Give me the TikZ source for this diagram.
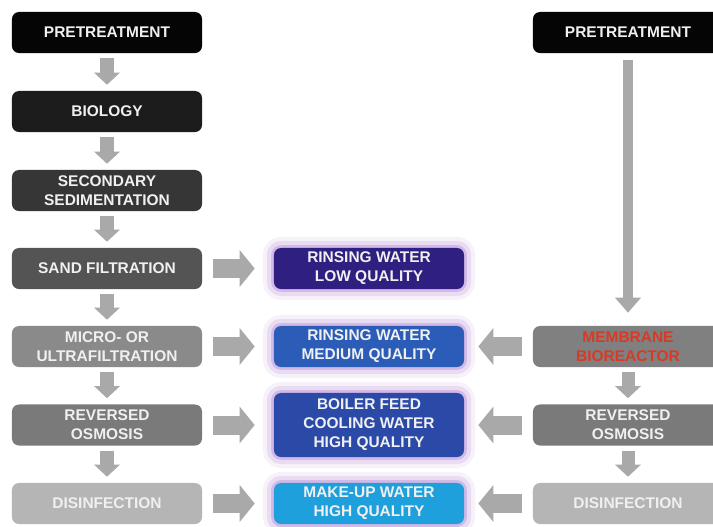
\documentclass[tikz,border=0pt]{standalone}
\usepackage{fontspec}
\setmainfont{Liberation Sans}
\usepackage{xcolor}
\usetikzlibrary{arrows.meta}

\definecolor{arrowgray}{HTML}{A9A9A9}
\definecolor{glow}{HTML}{BE98DE}
\definecolor{lowq}{HTML}{2E1F80}
\definecolor{medq}{HTML}{2A5CB8}
\definecolor{highq}{HTML}{2B4AA8}
\definecolor{makeq}{HTML}{1EA0DC}
\definecolor{mbrred}{HTML}{D83A24}

\tikzset{
  stage/.style={rounded corners=5pt, minimum width=4.75cm, minimum height=1.025cm, inner sep=0pt,
    align=center, text=white!94!black, font=\bfseries\fontsize{11}{13.5}\selectfont},
  water/.style={stage,
    preaction={draw=glow, line width=0.55cm, opacity=0.12},
    preaction={draw=glow, line width=0.35cm, opacity=0.25},
    preaction={draw=glow, line width=0.14cm, opacity=0.5}},
  downarrow/.style={draw=arrowgray, line width=0.325cm, -{Triangle[width=0.625cm, length=0.3cm]}},
  sidearrow/.style={draw=arrowgray, line width=0.475cm, -{Triangle[width=0.9cm, length=0.375cm]}},
  longarrow/.style={draw=arrowgray, line width=0.25cm, -{Triangle[width=0.625cm, length=0.375cm]}}
}

\begin{document}
\begin{tikzpicture}[x=0.025cm, y=-0.025cm]
        \useasboundingbox[fill=white] (0,0) rectangle (713,527);
        % conventional line
        \node[stage, fill=black!98] (pre) at (107,32.5) {PRETREATMENT};
        \node[stage, fill=black!89] (bio) at (107,111.5) {BIOLOGY};
        \node[stage, fill=black!79] (sed) at (107,190.5) {SECONDARY\\SEDIMENTATION};
        \node[stage, fill=black!67] (sand) at (107,268.5) {SAND FILTRATION};
        \node[stage, fill=black!46] (uf) at (107,346.5) {MICRO- OR\\ULTRAFILTRATION};
        \node[stage, fill=black!52] (ro) at (107,425) {REVERSED\\OSMOSIS};
        \node[stage, fill=black!29] (dis) at (107,503.5) {DISINFECTION};
        % water qualities
        \node[water, fill=lowq] (low) at (369,268.5) {RINSING WATER\\LOW QUALITY};
        \node[water, fill=medq] (med) at (369,346.5) {RINSING WATER\\MEDIUM QUALITY};
        \node[water, fill=highq, minimum height=1.6cm] (high) at (369,425) {BOILER FEED\\COOLING WATER\\HIGH QUALITY};
        \node[water, fill=makeq] (make) at (369,503.5) {MAKE-UP WATER\\HIGH QUALITY};
        % membrane bioreactor line
        \node[stage, fill=black!98] (rpre) at (628,32.5) {PRETREATMENT};
        \node[stage, fill=black!50, text=mbrred] (mbr) at (628,346.5) {MEMBRANE\\BIOREACTOR};
        \node[stage, fill=black!52] (rro) at (628,425) {REVERSED\\OSMOSIS};
        \node[stage, fill=black!29] (rdis) at (628,503.5) {DISINFECTION};

        \foreach \a/\b in {pre/bio, bio/sed, sed/sand, sand/uf, uf/ro, ro/dis, mbr/rro, rro/rdis}
          \draw[downarrow] ([yshift=-0.125cm]\a.south) -- ([yshift=0.15cm]\b.north);
        \foreach \a/\b in {sand/low, uf/med, ro/high, dis/make}
          \draw[sidearrow] ([xshift=0.275cm]\a.east) -- ([xshift=-0.475cm]\b.west);
        \foreach \a/\b in {mbr/med, rro/high, rdis/make}
          \draw[sidearrow] ([xshift=-0.275cm]\a.west) -- ([xshift=0.35cm]\b.east);
        \draw[longarrow] ([yshift=-0.175cm]rpre.south) -- ([yshift=0.325cm]mbr.north);
\end{tikzpicture}
\end{document}
